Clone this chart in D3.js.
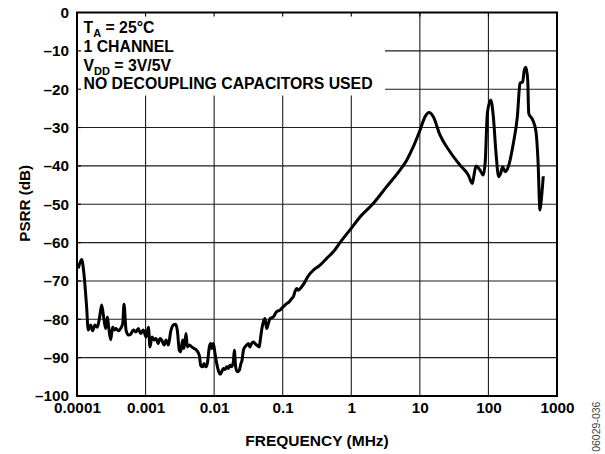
<!DOCTYPE html>
<html>
<head>
<meta charset="utf-8">
<title>PSRR vs Frequency</title>
<script src="https://cdn.jsdelivr.net/npm/d3@7/dist/d3.min.js"></script>
<style>
  *{margin:0;padding:0;}
  body{background:#fff;}
  text{font-family:"Liberation Sans",Arial,Helvetica,sans-serif;font-weight:bold;fill:#000;}
</style>
</head>
<body>
<div id="chart"></div>
<script>
// frequency in MHz, PSRR in dB
var freq = [
  1.045e-4, 1.17e-4, 1.26e-4, 1.38e-4, 1.46e-4, 1.58e-4, 1.69e-4, 1.83e-4, 1.98e-4, 2.12e-4,
  2.29e-4, 2.48e-4, 2.62e-4, 2.77e-4, 2.90e-4, 3.10e-4, 3.31e-4, 3.50e-4, 3.71e-4, 4.01e-4,
  4.33e-4, 4.64e-4, 4.85e-4, 5.19e-4, 5.61e-4, 6.06e-4, 6.63e-4, 7.25e-4, 7.84e-4, 8.48e-4,
  9.27e-4, 1.015e-3, 1.10e-3, 1.16e-3, 1.24e-3, 1.33e-3, 1.42e-3, 1.53e-3, 1.62e-3, 1.72e-3,
  1.86e-3, 1.99e-3, 2.15e-3, 2.32e-3, 2.54e-3, 2.75e-3, 2.90e-3, 3.11e-3, 3.25e-3, 3.48e-3,
  3.63e-3, 3.89e-3, 4.06e-3, 4.35e-3, 4.70e-3, 5.08e-3, 5.56e-3, 6.08e-3, 6.36e-3, 6.81e-3,
  7.11e-3, 7.60e-3, 7.96e-3, 8.51e-3, 8.90e-3, 9.20e-3, 9.73e-3, 1.03e-2, 1.09e-2, 1.15e-2,
  1.22e-2, 1.29e-2, 1.36e-2, 1.44e-2, 1.52e-2, 1.61e-2, 1.70e-2, 1.80e-2, 1.905e-2, 1.97e-2,
  2.06e-2, 2.18e-2, 2.33e-2, 2.46e-2, 2.55e-2, 2.67e-2, 2.82e-2, 2.98e-2, 3.15e-2, 3.33e-2,
  3.53e-2, 3.73e-2, 3.94e-2, 4.17e-2, 4.56e-2, 4.67e-2, 4.93e-2, 5.22e-2, 5.52e-2, 5.83e-2,
  6.17e-2, 6.53e-2, 7.29e-2, 8.17e-2, 9.13e-2, 0.102, 0.114, 0.125, 0.135, 0.143,
  0.151, 0.160, 0.169, 0.189, 0.204, 0.223, 0.250, 0.280, 0.350, 0.438,
  0.547, 0.685, 0.957, 1.34, 2.09, 3.28, 5.13, 6.43, 8.03, 10.05,
  11.9, 13.7, 15.7, 19.7, 27.5, 38.5, 50.9, 58.2, 61.6, 65.9,
  75.4, 84.2, 90.1, 96.4, 108, 118, 129, 141, 151, 161,
  175, 195, 231, 264, 289, 316, 334, 353, 374, 387,
  442, 494, 528, 565, 590, 631
];
var psrr = [
  -66.7, -64.4, -68.0, -76.7, -82.8, -81.5, -83.0, -81.5, -82.1, -79.8,
  -76.3, -80.2, -82.4, -79.4, -82.1, -85.3, -82.0, -82.8, -82.4, -83.0,
  -82.4, -81.1, -76.1, -82.8, -84.1, -83.9, -82.8, -83.3, -82.4, -83.7,
  -82.8, -84.6, -82.1, -87.2, -84.6, -85.4, -85.0, -86.3, -85.0, -85.4,
  -86.7, -85.4, -86.7, -83.3, -81.5, -81.3, -82.8, -88.1, -88.5, -85.4,
  -87.6, -83.7, -87.2, -86.7, -87.2, -87.6, -88.1, -89.4, -92.0, -92.4,
  -91.5, -92.4, -91.5, -87.2, -86.3, -87.6, -86.3, -88.9, -91.5, -93.3,
  -94.3, -93.7, -92.8, -93.1, -92.4, -92.8, -92.0, -92.4, -91.1, -88.1,
  -92.4, -93.7, -93.3, -91.5, -90.7, -88.1, -87.2, -86.7, -86.3, -87.2,
  -86.3, -85.9, -86.3, -86.7, -87.2, -85.9, -82.8, -80.7, -79.8, -82.4,
  -81.1, -79.8, -79.4, -78.0, -77.6, -76.7, -75.9, -75.4, -74.6, -74.1,
  -72.8, -72.0, -72.4, -71.5, -70.7, -69.4, -68.1, -67.2, -65.9, -64.1,
  -62.4, -60.0, -56.7, -53.3, -49.8, -45.4, -41.1, -38.5, -35.0, -30.7,
  -27.2, -26.1, -27.2, -32.0, -36.3, -39.8, -42.4, -44.6, -42.4, -40.0,
  -41.1, -42.4, -38.5, -26.3, -22.8, -27.2, -36.7, -42.8, -41.9, -40.2,
  -41.5, -40.2, -34.1, -27.2, -18.5, -18.0, -15.0, -14.3, -17.6, -26.3,
  -28.0, -31.1, -38.5, -51.5, -48.9, -42.7
];

var xTicks = [0.0001, 0.001, 0.01, 0.1, 1, 10, 100, 1000];
var xTickLabels = ["0.0001", "0.001", "0.01", "0.1", "1", "10", "100", "1000"];
var yTicks = [0, -10, -20, -30, -40, -50, -60, -70, -80, -90, -100];
var yTickLabels = ["0", "–10", "–20", "–30", "–40", "–50", "–60", "–70", "–80", "–90", "–100"];

// note lines: [main, subscript, rest]
var notes = [
  ["T", "A", " = 25°C"],
  ["1 CHANNEL", "", ""],
  ["V", "DD", " = 3V/5V"],
  ["NO DECOUPLING CAPACITORS USED", "", ""]
];

var W = 605, H = 454;
var margin = {top: 12.5, left: 77};
var width = 480, height = 383.5;

var svg = d3.select("#chart").append("svg")
    .attr("width", W)
    .attr("height", H);

var x = d3.scaleLog().domain([1e-4, 1e3]).range([0, width]);
var y = d3.scaleLinear().domain([-100, 0]).range([height, 0]);

var g = svg.append("g").attr("transform", "translate(" + margin.left + "," + margin.top + ")");

// grid
g.selectAll(".vgrid").data(xTicks.slice(1, -1)).enter().append("line")
    .attr("x1", function(d){ return x(d); }).attr("x2", function(d){ return x(d); })
    .attr("y1", 0).attr("y2", height)
    .attr("stroke", "#1e1e1e").attr("stroke-width", 1.1);
g.selectAll(".hgrid").data(yTicks.slice(1, -1)).enter().append("line")
    .attr("y1", function(d){ return y(d); }).attr("y2", function(d){ return y(d); })
    .attr("x1", 0).attr("x2", width)
    .attr("stroke", "#1e1e1e").attr("stroke-width", 1.1);

// white box behind the notes
g.append("rect").attr("x", 0).attr("y", 0).attr("width", 308).attr("height", 83)
    .attr("fill", "#fff");

// short inner ticks along top and left
g.selectAll(".ttick").data(xTicks.slice(1, -1)).enter().append("line")
    .attr("x1", function(d){ return x(d); }).attr("x2", function(d){ return x(d); })
    .attr("y1", 0).attr("y2", 4)
    .attr("stroke", "#000").attr("stroke-width", 1.1);
g.selectAll(".ltick").data(yTicks.slice(1, -1)).enter().append("line")
    .attr("y1", function(d){ return y(d); }).attr("y2", function(d){ return y(d); })
    .attr("x1", 0).attr("x2", 4)
    .attr("stroke", "#000").attr("stroke-width", 1.1);

// notes
notes.forEach(function(n, i){
  var t = g.append("text").attr("x", 6.5).attr("y", 20.8 + i * 18.6).attr("font-size", 15.8);
  t.append("tspan").text(n[0]);
  if (n[1]) {
    t.append("tspan").attr("font-size", 11).attr("dy", 4).text(n[1]);
    t.append("tspan").attr("dy", -4).text(n[2]);
  }
});

// curve
var pts = freq.map(function(f, i){ return {f: f, v: psrr[i]}; });
var line = d3.line()
    .x(function(d){ return x(d.f); })
    .y(function(d){ return y(d.v); })
    .curve(d3.curveMonotoneX);
g.append("path").datum(pts)
    .attr("d", line)
    .attr("fill", "none")
    .attr("stroke", "#000")
    .attr("stroke-width", 3)
    .attr("stroke-linejoin", "round");

// frame
g.append("rect").attr("x", 0).attr("y", 0).attr("width", width).attr("height", height)
    .attr("fill", "none").attr("stroke", "#000").attr("stroke-width", 2);

// axes
var xAxis = g.append("g").attr("transform", "translate(0," + height + ")")
    .call(d3.axisBottom(x).tickValues(xTicks)
        .tickFormat(function(d, i){ return xTickLabels[i]; })
        .tickSize(0).tickPadding(6));
xAxis.attr("font-size", 15.3);
xAxis.select(".domain").remove();

var yAxis = g.append("g")
    .call(d3.axisLeft(y).tickValues(yTicks)
        .tickFormat(function(d, i){ return yTickLabels[i]; })
        .tickSize(0).tickPadding(8));
yAxis.attr("font-size", 15.3);
yAxis.select(".domain").remove();

// titles
svg.append("text").attr("x", 317).attr("y", 446).attr("text-anchor", "middle")
    .attr("font-size", 15.5).text("FREQUENCY (MHz)");
svg.append("text").attr("transform", "translate(29.5,203.3) rotate(-90)")
    .attr("text-anchor", "middle").attr("font-size", 15.2).text("PSRR (dB)");
svg.append("text").attr("transform", "translate(600,426.7) rotate(-90)")
    .attr("text-anchor", "middle").attr("font-size", 10.5)
    .style("font-weight", "normal").style("fill", "#444").text("06029-036");
</script>
</body>
</html>
